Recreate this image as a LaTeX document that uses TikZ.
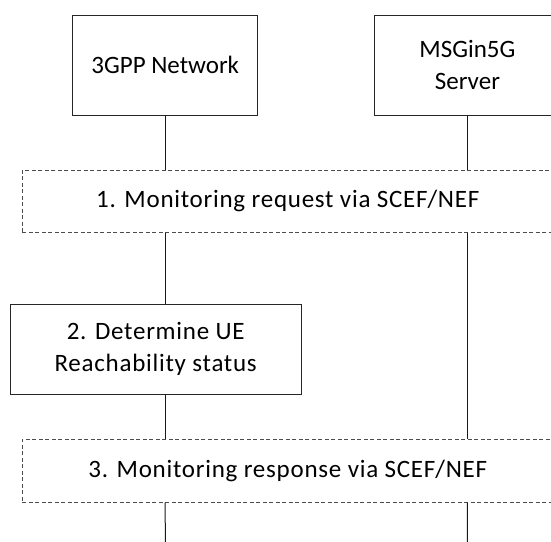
\documentclass[tikz,border=0pt]{standalone}
\usepackage{fontspec}
\setmainfont{Carlito}
\newfontfamily\widefont[LetterSpace=3]{Carlito}
\begin{document}
\begin{tikzpicture}[x=1pt,y=-1pt,
  every node/.style={inner sep=0pt,outer sep=0pt},
  txt/.style={font=\fontsize{25}{32}\selectfont,align=center},
  widetxt/.style={font=\widefont\fontsize{25}{32}\selectfont,align=center},
  entity/.style={draw=black!85,line width=0.9pt,rectangle,minimum width=185pt,minimum height=100pt,txt},
  stepbox/.style={draw=black!85,line width=0.9pt,rectangle,widetxt},
  msgbox/.style={draw=black!70,line width=0.7pt,dash pattern=on 4pt off 2.5pt,rectangle,widetxt},
  life/.style={draw=black!90,line width=1pt}]
\useasboundingbox (0,0) rectangle (551,541);
\node[entity] (net) at (165.2,65.3) {3GPP Network};
\node[entity] (srv) at (467.4,65.3) {MSGin5G\\Server};
\node[msgbox,minimum width=531pt,minimum height=62.7pt] (req) at (287.8,201.4) {1. Monitoring request via SCEF/NEF};
\node[stepbox,minimum width=290.7pt,minimum height=90pt] (det) at (155.7,349.3) {2. Determine UE\\Reachability status};
\node[msgbox,minimum width=531pt,minimum height=63.4pt] (resp) at (287.8,471) {3. Monitoring response via SCEF/NEF};
\coordinate (e1) at (165.3,545);
\coordinate (e2) at (467.3,545);
\draw[life] (net.south) -- (net.south |- req.north);
\draw[life] (net.south |- req.south) -- (net.south |- det.north);
\draw[life] (net.south |- det.south) -- (net.south |- resp.north);
\draw[life] (net.south |- resp.south) -- (e1);
\draw[life] (srv.south) -- (srv.south |- req.north);
\draw[life] (srv.south |- req.south) -- (srv.south |- resp.north);
\draw[life] (srv.south |- resp.south) -- (e2);
\end{tikzpicture}
\end{document}
